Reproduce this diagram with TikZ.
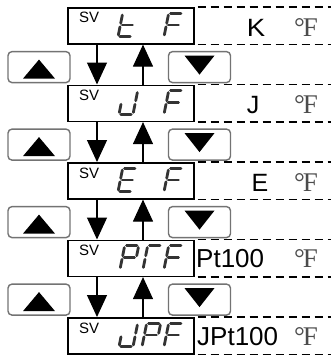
\documentclass[tikz,border=0pt]{standalone}
\usepackage{fontspec}
\setmainfont{Liberation Sans}
\newfontfamily\degfont{Liberation Serif}
\usetikzlibrary{arrows.meta,calc}
\newcommand\segdig[3]{\begin{scope}[shift={(#1,#2)},xslant=0.2]#3\end{scope}}
\newcommand\segA{\draw[seg] (1.8,-23.4) -- (12.2,-23.4);}
\newcommand\segB{\draw[seg] (14,-21.6) -- (14,-13.5);}
\newcommand\segC{\draw[seg] (14,-9.9) -- (14,-1.8);}
\newcommand\segD{\draw[seg] (1.8,0) -- (12.2,0);}
\newcommand\segE{\draw[seg] (0,-1.8) -- (0,-9.9);}
\newcommand\segF{\draw[seg] (0,-13.5) -- (0,-21.6);}
\newcommand\segG{\draw[seg] (1.8,-11.7) -- (12.2,-11.7);}
\newcommand\digF{\segA\segE\segF\segG}
\begin{document}
\begin{tikzpicture}[x=1pt,y=-1pt,
  dispbox/.style={draw, line width=1.6pt, fill=white, inner sep=0pt, minimum width=126pt, minimum height=36pt, anchor=north west},
  btn/.style={draw=black!55, line width=1.4pt, rounded corners=4pt, inner sep=0pt, minimum width=62pt, minimum height=31pt},
  dashline/.style={line width=1.5pt, dash pattern=on 8pt off 5pt},
  seg/.style={line width=2.8pt, draw=black!80, line cap=round},
  flow/.style={line width=1.2pt, -{Triangle[width=20pt,length=22pt]}},
  svtext/.style={inner sep=0pt, anchor=base west, font=\fontsize{15}{15}\selectfont},
  lbl/.style={inner sep=0pt, anchor=base, font=\fontsize{25}{25}\selectfont},
  lblw/.style={inner sep=0pt, anchor=base west, font=\fontsize{26}{26}\selectfont},
  deg/.style={inner sep=0pt, anchor=base, text=black!70, font=\degfont\fontsize{27}{27}\selectfont}]
\useasboundingbox (0,0) rectangle (331,356);

% display boxes
\node[dispbox] (d1) at (67,7) {};
\node[dispbox] (d2) at (67,84.5) {};
\node[dispbox] (d3) at (67,162) {};
\node[dispbox] (d4) at (67,239.5) {};
\node[dispbox] (d5) at (67,317) {};

\foreach \d in {d1,d2,d3,d4,d5}{
  \node[svtext] (sv\d) at ($(\d.north west)+(12,16)$) {SV};
  \draw[dashline] ($(\d.north east)+(3,0)$) -- ($(\d.north east)+(138,0)$);
  \draw[dashline] ($(\d.south east)+(3,0)$) -- ($(\d.south east)+(138,0)$);
}

% segment texts
\segdig{118}{36.7}{\segF\segG\segE\segD}
\segdig{164}{36.7}{\digF}
\segdig{119}{114.2}{\segB\segC\segD\segE}
\segdig{164}{114.2}{\digF}
\segdig{118}{191.7}{\segA\segF\segG\segE\segD}
\segdig{164}{191.7}{\digF}
\segdig{120}{269.2}{\segA\segB\segF\segG\segE}
\segdig{143}{269.2}{\segA\segF\segE}
\segdig{164}{269.2}{\digF}
\segdig{119}{346.7}{\segB\segC\segD\segE}
\segdig{142}{346.7}{\segA\segB\segF\segG\segE}
\segdig{164}{346.7}{\digF}

% labels
\node[lbl, xscale=1.1] (lK) at (256,36) {K};
\node[lbl] (lJ) at (253,113.5) {J};
\node[lbl] (lE) at (260,191) {E};
\node[lblw] (lP) at (196,267.5) {Pt100};
\node[lblw] (lJP) at (197,345) {JPt100};
\node[deg] (f1) at (306,36) {°\kern-2pt F};
\node[deg] (f2) at (306,113.5) {°\kern-2pt F};
\node[deg] (f3) at (306,191) {°\kern-2pt F};
\node[deg] (f4) at (306,267.5) {°\kern-2pt F};
\node[deg] (f5) at (306,345) {°\kern-2pt F};

% buttons and arrows
\foreach \a/\b/\n in {d1/d2/1,d2/d3/2,d3/d4/3,d4/d5/4}{
  \node[btn] (bu\n) at ($(\a.south west)+(-28,22.5)$) {};
  \node[btn] (bd\n) at ($(\a.south west)+(132.5,22.5)$) {};
  \fill[shift={(bu\n.center)}] (-16,11.5) -- (16,11.5) -- (0,-7.5) -- cycle;
  \fill[shift={(bd\n.center)}] (-15,-11.5) -- (15,-11.5) -- (0,7.5) -- cycle;
  \draw[flow] ($(\a.south west)+(30,0)$) -- ($(\b.north west)+(30,0)$);
  \draw[flow] ($(\b.north west)+(76,0)$) -- ($(\a.south west)+(76,0)$);
}
\end{tikzpicture}
\end{document}
